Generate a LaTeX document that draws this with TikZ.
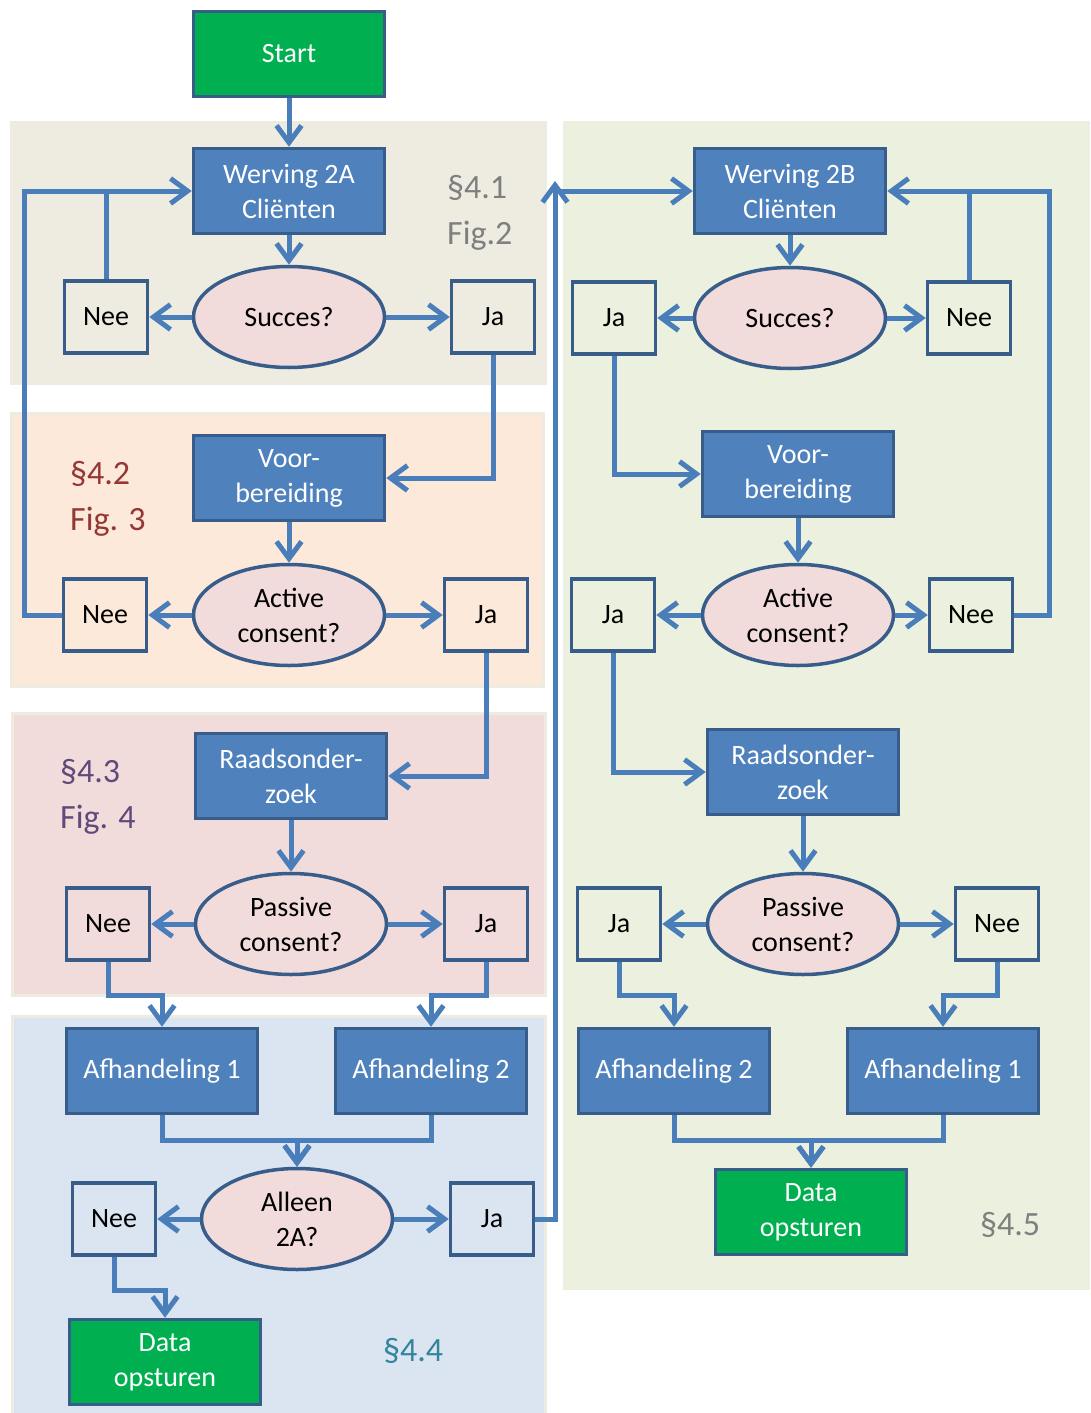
\documentclass[tikz,border=0pt]{standalone}
\usepackage{fontspec}
\setmainfont{Carlito}
\usepackage{tikz}
\usetikzlibrary{arrows.meta,shapes.geometric}
\definecolor{boxblue}{HTML}{4F81BD}
\definecolor{boxline}{HTML}{385D8A}
\definecolor{arrowblue}{HTML}{4A7EBB}
\definecolor{startgreen}{HTML}{00B050}
\definecolor{ovalpink}{HTML}{F2DCDB}
\definecolor{bgtan}{HTML}{EEECE1}
\definecolor{bgpeach}{HTML}{FDE9D9}
\definecolor{bgpink}{HTML}{F2DCDB}
\definecolor{bgblue}{HTML}{DBE5F1}
\definecolor{bggreen}{HTML}{EBF1DE}
\definecolor{labgray}{HTML}{7F7F7F}
\definecolor{labred}{HTML}{953735}
\definecolor{labpurple}{HTML}{604A7B}
\definecolor{labteal}{HTML}{31859C}

\begin{document}
\begin{tikzpicture}[x=1pt,y=-1pt,
	txt/.style={font=\fontsize{28}{35}\selectfont,align=center,inner sep=0pt},
	blok/.style={txt,rectangle,draw=boxline,line width=3.5pt,fill=boxblue,text=white,minimum width=191pt,minimum height=85pt},
	groen/.style={blok,fill=startgreen},
	vraag/.style={txt,ellipse,draw=boxline,line width=3.5pt,fill=ovalpink,minimum width=191pt,minimum height=101pt},
	antw/.style={txt,rectangle,draw=boxline,line width=3.5pt,minimum width=83pt,minimum height=72pt},
	pijl/.style={draw=arrowblue,line width=5pt,-{Straight Barb[length=17pt,width=25pt]}},
	lijn/.style={draw=arrowblue,line width=5pt},
	vlak/.style={draw=bgtan,line width=3pt},
	par/.style={font=\fontsize{34}{46}\selectfont,align=left,anchor=west,inner sep=0pt}]
		\useasboundingbox (0,0) rectangle (1090,1413);
		% achtergrond per paragraaf
		\fill[bgtan] (10,121) rectangle (547,385);
		\draw[vlak,fill=bgpeach] (11,413) rectangle (543,686);
		\draw[vlak,fill=bgpink] (12,713) rectangle (545,995);
		\draw[vlak,fill=bgblue] (12,1016) rectangle (545,1416);
		\fill[bggreen] (563,121) rectangle (1090,1290);
		\node[par,text=labgray] (p41) at (447,213) {§4.1\\Fig.2};
		\node[par,text=labred] (p42) at (70,499) {§4.2\\Fig. 3};
		\node[par,text=labpurple] (p43) at (60,797) {§4.3\\Fig. 4};
		\node[par,text=labteal] (p44) at (383,1351) {§4.4};
		\node[par,text=labgray] (p45) at (980,1225) {§4.5};
		% route 2A
		\node[groen] (start) at (289,54) {Start};
		\node[blok] (w2a) at (289,191) {Werving 2A\\Cliënten};
		\node[vraag] (suc2a) at (289,317) {Succes?};
		\node[antw] (nee2a) at (106,317) {Nee};
		\node[antw] (ja2a) at (493,317) {Ja};
		\node[blok] (voor2a) at (289,478) {Voor-\\bereiding};
		\node[vraag] (act2a) at (289,615) {Active\\consent?};
		\node[antw] (neeact2a) at (105,615) {Nee};
		\node[antw] (jaact2a) at (486,615) {Ja};
		\node[blok] (raad2a) at (291,776) {Raadsonder-\\zoek};
		\node[vraag] (pas2a) at (291,924) {Passive\\consent?};
		\node[antw] (neepas2a) at (108,924) {Nee};
		\node[antw] (japas2a) at (486,924) {Ja};
		\node[blok] (afh1a) at (162,1071) {Afhandeling 1};
		\node[blok] (afh2a) at (431,1071) {Afhandeling 2};
		\node[vraag] (alleen) at (297,1219) {Alleen\\2A?};
		\node[antw] (neeall) at (114,1219) {Nee};
		\node[antw] (jaall) at (492,1219) {Ja};
		\node[groen] (data2a) at (165,1362) {Data\\opsturen};
		% route 2B
		\node[blok] (w2b) at (790,191) {Werving 2B\\Cliënten};
		\node[vraag] (suc2b) at (790,318) {Succes?};
		\node[antw] (ja2b) at (614,318) {Ja};
		\node[antw] (nee2b) at (969,318) {Nee};
		\node[blok] (voor2b) at (798,474) {Voor-\\bereiding};
		\node[vraag] (act2b) at (798,615) {Active\\consent?};
		\node[antw] (jaact2b) at (613,615) {Ja};
		\node[antw] (neeact2b) at (971,615) {Nee};
		\node[blok] (raad2b) at (803,772) {Raadsonder-\\zoek};
		\node[vraag] (pas2b) at (803,924) {Passive\\consent?};
		\node[antw] (japas2b) at (619,924) {Ja};
		\node[antw] (neepas2b) at (997,924) {Nee};
		\node[blok] (afh2b) at (674,1071) {Afhandeling 2};
		\node[blok] (afh1b) at (943,1071) {Afhandeling 1};
		\node[groen] (data2b) at (811,1212) {Data\\opsturen};
		\coordinate (lft) at (24,191);
		\coordinate (rgt) at (1049,191);
		\coordinate (op) at (555,181);
		% pijlen 2A
		\draw[pijl] (start) -- (w2a);
		\draw[pijl] (w2a) -- (suc2a);
		\draw[pijl] (suc2a) -- (nee2a);
		\draw[pijl] (suc2a) -- (ja2a);
		\draw[lijn] (nee2a.north) -- (nee2a.north |- w2a.west);
		\draw[pijl] (neeact2a.west) -| (lft) -- (w2a.west);
		\draw[pijl] (ja2a.south) |- (voor2a.east);
		\draw[pijl] (voor2a) -- (act2a);
		\draw[pijl] (act2a) -- (neeact2a);
		\draw[pijl] (act2a) -- (jaact2a);
		\draw[pijl] (jaact2a.south) |- (raad2a.east);
		\draw[pijl] (raad2a) -- (pas2a);
		\draw[pijl] (pas2a) -- (neepas2a);
		\draw[pijl] (pas2a) -- (japas2a);
		\draw[pijl] (neepas2a.south) -- ++(0,34) -| (afh1a.north);
		\draw[pijl] (japas2a.south) -- ++(0,34) -| (afh2a.north);
		\draw[pijl] (afh1a.south) -- ++(0,25) -| (alleen.north);
		\draw[pijl] (afh2a.south) -- ++(0,25) -| (alleen.north);
		\draw[pijl] (alleen) -- (neeall);
		\draw[pijl] (alleen) -- (jaall);
		\draw[pijl] (neeall.south) -- ++(0,34) -| (data2a.north);
		\draw[pijl] (jaall.east) -| (op);
		\draw[pijl] (op |- w2b.west) -- (w2b.west);
		% pijlen 2B
		\draw[pijl] (w2b) -- (suc2b);
		\draw[pijl] (suc2b) -- (ja2b);
		\draw[pijl] (suc2b) -- (nee2b);
		\draw[lijn] (nee2b.north) -- (nee2b.north |- w2b.east);
		\draw[pijl] (neeact2b.east) -| (rgt) -- (w2b.east);
		\draw[pijl] (ja2b.south) |- (voor2b.west);
		\draw[pijl] (voor2b) -- (act2b);
		\draw[pijl] (act2b) -- (jaact2b);
		\draw[pijl] (act2b) -- (neeact2b);
		\draw[pijl] (jaact2b.south) |- (raad2b.west);
		\draw[pijl] (raad2b) -- (pas2b);
		\draw[pijl] (pas2b) -- (japas2b);
		\draw[pijl] (pas2b) -- (neepas2b);
		\draw[pijl] (japas2b.south) -- ++(0,34) -| (afh2b.north);
		\draw[pijl] (neepas2b.south) -- ++(0,34) -| (afh1b.north);
		\draw[pijl] (afh2b.south) -- ++(0,25) -| (data2b.north);
		\draw[pijl] (afh1b.south) -- ++(0,25) -| (data2b.north);
	\end{tikzpicture}
\end{document}
